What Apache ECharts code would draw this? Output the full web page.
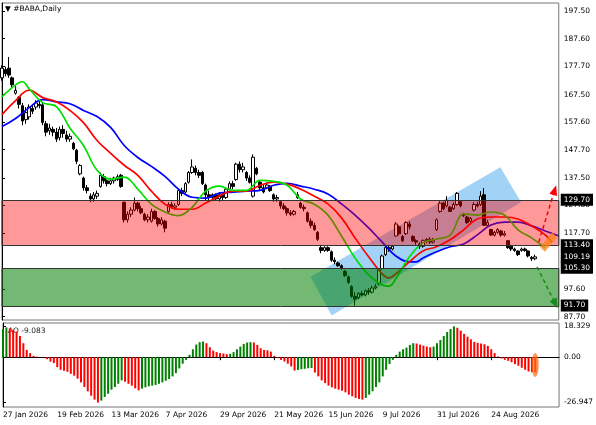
<!DOCTYPE html>
<html>
<head>
<meta charset="utf-8">
<title>#BABA, Daily</title>
<script src="https://cdn.jsdelivr.net/npm/echarts@6/dist/echarts.min.js"></script>
<style>
html, body { margin: 0; padding: 0; background: #fff; }
#chart { width: 596px; height: 425px; }
</style>
</head>
<body>
<div id="chart"></div>
<script>
// bar index of each date label on the bottom axis
const tickIdx = [0, 16, 32, 48, 64, 80, 96, 112, 128, 144]
const tickDates = ['27 Jan 2026', '19 Feb 2026', '13 Mar 2026', '7 Apr 2026', '29 Apr 2026',
  '21 May 2026', '15 Jun 2026', '9 Jul 2026', '31 Jul 2026', '24 Aug 2026']

// daily candles, one value per trading day
const open = [
  173.5, 176.5, 177.0, 173.5, 168.0, 166.5, 163.5, 158.5, 159.5, 162.5,
  163.0, 164.0, 163.8, 157.0, 154.5, 155.0, 154.0, 152.0, 155.0, 153.0,
  151.5, 150.0, 147.5, 139.0, 137.5, 134.0, 131.0, 130.0, 131.0, 134.5,
  138.0, 136.5, 135.5, 136.5, 137.0, 138.5, 128.8, 122.5, 124.5, 126.0,
  128.5, 126.5, 124.5, 122.5, 122.0, 125.5, 123.0, 121.0, 122.0, 125.5,
  128.0, 127.0, 128.0, 133.0, 132.5, 136.0, 139.5, 141.0, 139.5, 139.5,
  135.0, 131.5, 130.5, 131.5, 130.0, 131.5, 130.5, 133.5, 135.5, 137.0,
  142.5, 140.5, 139.5, 137.5, 131.0, 141.0, 136.0, 134.0, 134.0, 134.5,
  131.5, 130.0, 129.0, 127.5, 126.5, 125.0, 124.5, 130.5, 128.5, 127.0,
  125.0, 122.0, 120.5, 118.0, 112.5, 111.5, 112.5, 111.0, 108.0, 107.0,
  106.0, 104.0, 102.0, 98.5, 95.0, 94.5, 96.0, 95.5, 97.0, 96.5,
  98.0, 99.5, 105.0, 110.0, 112.5, 112.0, 116.7, 120.0, 116.5, 117.5,
  121.0, 116.5, 115.0, 113.8, 113.0, 115.0, 115.5, 114.5, 119.0, 125.5,
  128.5, 127.5, 127.0, 126.5, 128.0, 129.0, 124.5, 123.5, 122.0, 126.0,
  128.0, 128.0, 131.5, 120.5, 119.0, 117.0, 118.0, 118.5, 117.0, 115.0,
  113.0, 112.0, 111.3, 111.5, 112.0, 111.3, 109.0, 108.5
]
const close = [
  177.0, 175.0, 174.5, 171.0, 169.0, 164.0, 158.0, 161.0, 163.0, 161.5,
  164.5, 163.5, 157.5, 154.0, 155.5, 154.0, 151.5, 155.0, 153.5, 151.5,
  152.5, 148.0, 143.5, 142.0, 134.0, 133.0, 130.0, 131.5, 132.0, 138.5,
  136.5, 135.5, 136.5, 137.5, 138.0, 134.5, 122.5, 124.5, 126.0, 128.5,
  126.5, 125.0, 122.5, 123.5, 125.5, 123.0, 121.0, 122.5, 119.5, 128.0,
  127.0, 127.5, 133.0, 132.0, 135.5, 139.5, 141.5, 139.5, 138.5, 135.5,
  131.5, 130.5, 131.5, 130.0, 131.5, 130.5, 133.5, 135.5, 134.5, 142.5,
  140.5, 141.5, 137.5, 136.0, 145.0, 139.0, 134.0, 132.5, 135.0, 133.0,
  130.0, 130.5, 127.5, 126.5, 125.0, 124.5, 125.5, 131.5, 127.0, 126.5,
  122.0, 120.5, 119.0, 115.5, 111.5, 112.5, 111.5, 108.0, 107.5, 106.0,
  105.0, 102.5, 100.0, 95.0, 94.0, 96.0, 95.5, 97.0, 96.5, 98.0,
  98.5, 104.5, 109.5, 112.5, 112.0, 113.0, 121.0, 117.5, 115.0, 121.5,
  120.0, 115.0, 114.5, 113.0, 115.0, 115.5, 114.5, 115.0, 122.5, 128.5,
  126.5, 129.5, 125.5, 128.0, 132.0, 127.5, 124.0, 121.5, 123.0, 128.0,
  127.5, 131.0, 120.5, 121.5, 117.0, 118.0, 119.0, 117.0, 117.5, 112.5,
  112.0, 111.5, 110.0, 112.0, 111.5, 109.5, 108.5, 109.19
]
const low = [
  172.5, 174.0, 173.5, 170.0, 167.5, 162.5, 156.5, 157.0, 158.5, 160.5,
  162.0, 162.5, 156.5, 152.5, 153.0, 152.5, 150.5, 151.0, 152.0, 150.5,
  150.5, 147.5, 142.5, 138.5, 133.0, 132.0, 128.8, 129.0, 130.0, 134.0,
  135.5, 134.5, 135.0, 135.5, 136.5, 134.0, 121.5, 121.5, 123.5, 125.5,
  125.5, 124.5, 122.0, 121.5, 121.5, 122.5, 120.0, 120.5, 118.0, 125.0,
  126.5, 126.0, 127.5, 131.0, 132.0, 135.5, 139.0, 138.5, 137.5, 135.0,
  129.5, 129.0, 130.0, 129.5, 129.0, 129.5, 130.0, 133.0, 133.5, 136.5,
  139.5, 139.5, 136.5, 135.5, 130.5, 138.5, 133.0, 132.0, 133.5, 132.5,
  129.0, 129.0, 126.5, 126.0, 124.0, 123.8, 124.0, 130.0, 126.5, 125.5,
  121.5, 119.5, 118.5, 114.9, 110.5, 111.0, 111.0, 107.4, 106.5, 105.6,
  104.5, 102.0, 99.5, 94.5, 91.7, 94.0, 95.0, 95.0, 95.5, 96.0,
  97.5, 99.0, 104.5, 109.5, 111.0, 111.5, 116.5, 117.0, 114.5, 117.0,
  119.0, 114.5, 113.5, 112.0, 112.5, 114.0, 113.8, 114.0, 118.5, 125.0,
  126.0, 127.0, 125.3, 126.0, 127.5, 127.0, 123.5, 121.0, 121.5, 125.5,
  127.0, 127.5, 120.3, 120.0, 116.7, 116.5, 117.5, 116.4, 116.5, 112.1,
  111.3, 111.0, 109.5, 111.0, 111.0, 109.0, 107.7, 108.0
]
const high = [
  178.0, 177.5, 181.0, 174.0, 170.5, 167.0, 164.5, 163.0, 164.0, 164.0,
  165.5, 165.5, 164.5, 158.0, 157.0, 156.0, 155.5, 156.0, 156.5, 154.5,
  153.5, 150.5, 148.0, 142.5, 138.0, 135.0, 132.0, 132.5, 133.0, 139.5,
  139.0, 137.0, 137.5, 138.0, 138.8, 139.0, 129.0, 125.5, 127.0, 130.5,
  129.0, 127.5, 125.0, 124.5, 126.5, 126.0, 123.5, 123.5, 122.5, 128.8,
  129.0, 128.5, 133.5, 134.0, 136.0, 140.0, 144.2, 142.0, 140.5, 140.0,
  135.5, 133.0, 132.0, 132.0, 132.5, 132.5, 134.0, 136.3, 136.5, 143.0,
  143.5, 143.0, 140.0, 138.5, 146.0, 141.5, 136.5, 135.0, 136.0, 135.0,
  132.0, 131.5, 129.5, 128.5, 127.0, 126.0, 126.0, 132.5, 129.0, 128.0,
  125.5, 123.0, 121.5, 118.5, 113.5, 113.0, 113.0, 111.5, 109.0, 107.5,
  106.5, 104.5, 102.5, 99.0, 96.5, 96.5, 97.0, 97.5, 98.0, 98.8,
  99.5, 105.0, 110.0, 113.0, 113.5, 113.5, 121.7, 120.5, 117.0, 122.0,
  122.0, 117.0, 115.5, 114.5, 115.5, 116.0, 116.3, 116.0, 123.0, 129.2,
  129.0, 131.0, 127.5, 128.8, 132.5, 129.2, 125.0, 124.0, 123.5, 128.8,
  129.0, 132.8, 133.9, 122.5, 119.3, 118.5, 119.5, 118.9, 118.5, 115.0,
  113.5, 112.5, 111.5, 112.5, 112.5, 111.5, 109.5, 110.0
]

// alligator lines, [bar index, price], drawn shifted forward like the original
const lips = [
  [0, 166.7], [4, 171.0], [6, 172.1], [8, 169.6], [12, 164.6], [16, 163.2], [20, 155.5],
  [24, 149.2], [28, 140.3], [32, 137.1], [36, 137.8], [40, 133.5], [44, 128.1], [48, 125.3],
  [52, 124.0], [56, 127.0], [60, 132.8], [64, 134.6], [68, 133.1], [72, 133.1], [76, 136.7],
  [80, 136.3], [84, 134.9], [88, 129.9], [92, 128.1], [96, 124.2], [100, 116.7], [104, 108.8],
  [108, 102.7], [112, 99.1], [114, 98.7], [116, 101.3], [120, 109.2], [124, 114.2], [128, 115.6],
  [132, 117.0], [136, 124.6], [140, 124.2], [144, 125.3], [148, 124.2], [152, 118.9],
  [156, 116.0], [160, 112.4]
]
const teeth = [
  [0, 160.3], [4, 165.3], [8, 169.1], [12, 166.4], [16, 164.9], [20, 161.8], [24, 157.4],
  [28, 151.0], [32, 146.4], [36, 142.1], [40, 138.5], [44, 132.8], [48, 128.1], [52, 126.3],
  [56, 126.3], [60, 128.5], [64, 131.0], [68, 132.8], [72, 132.8], [76, 134.9], [80, 136.0],
  [84, 135.3], [88, 133.5], [92, 131.0], [96, 128.2], [100, 123.2], [104, 116.0], [108, 109.2],
  [112, 103.1], [114, 101.6], [116, 103.1], [120, 107.4], [124, 111.3], [128, 112.8],
  [132, 115.3], [136, 118.9], [140, 122.8], [144, 123.5], [148, 123.5], [152, 122.8],
  [156, 120.3], [160, 117.1], [162, 114.5]
]
const jaw = [
  [0, 156.0], [4, 158.9], [8, 162.8], [12, 165.7], [16, 164.9], [20, 164.2], [24, 161.8],
  [28, 159.6], [32, 155.7], [36, 149.2], [40, 144.9], [44, 141.7], [48, 138.1], [52, 133.5],
  [56, 130.6], [60, 130.3], [64, 132.1], [68, 132.4], [72, 132.8], [76, 133.1], [80, 134.9],
  [84, 135.6], [88, 134.6], [92, 133.5], [96, 131.8], [100, 128.2], [104, 124.2], [108, 119.6],
  [112, 114.5], [116, 109.5], [120, 107.4], [122, 107.4], [124, 108.8], [128, 111.0],
  [132, 112.8], [136, 113.8], [140, 117.1], [144, 120.6], [148, 121.7], [152, 121.7],
  [156, 120.3], [160, 118.5], [164, 116.7]
]

// awesome oscillator, one value per bar
const ao = [
  16.7, 17.7, 17.1, 16.2, 15.2, 12.6, 8.3, 4.3, 2.4, 0.8,
  0.3, 0.1, -0.2, -1.2, -2.6, -3.5, -5.9, -7.5, -8.1, -8.7,
  -9.9, -11.0, -12.8, -15.0, -17.7, -20.3, -22.9, -25.2, -26.947, -25.8,
  -23.6, -21.7, -19.3, -17.7, -15.8, -13.8, -14.6, -15.8, -16.9, -18.5,
  -19.7, -18.7, -17.9, -17.3, -16.9, -16.5, -15.8, -15.0, -14.0, -13.0,
  -11.4, -9.5, -6.7, -3.9, -1.6, 1.4, 4.7, 7.5, 8.9, 9.3,
  8.3, 5.9, 3.9, 3.0, 2.4, 2.2, 1.8, 2.0, 3.0, 4.7,
  6.3, 7.9, 8.7, 8.9, 8.7, 7.3, 5.3, 4.3, 4.1, 3.3,
  0.8, -0.6, -1.6, -2.6, -3.9, -5.5, -7.9, -7.6, -7.2, -6.9,
  -6.6, -6.4, -9.1, -11.4, -13.8, -15.4, -16.9, -17.9, -18.7, -19.3,
  -19.9, -20.9, -22.3, -23.2, -24.2, -24.8, -25.2, -24.2, -22.3, -20.3,
  -17.7, -15.0, -11.4, -7.5, -4.1, -1.6, 1.4, 3.3, 4.7, 5.7,
  7.3, 8.3, 8.1, 7.5, 6.9, 6.3, 5.9, 6.3, 8.3, 10.2,
  12.6, 15.0, 16.7, 18.329, 17.5, 15.8, 13.8, 12.2, 10.6, 9.1,
  8.5, 8.1, 7.7, 6.7, 4.7, 2.4, 0.4, -0.8, -1.6, -2.2,
  -3.0, -4.1, -5.1, -6.3, -7.5, -8.5, -8.9, -9.083
]

// drawn objects
const resistZone = [129.7, 113.4]
const supportZone = [105.3, 91.7]
const channel = [[90.9, 102.0], [146.8, 141.35], [152.9, 128.8], [97.1, 88.1]]
const pivotBox = [[158.4, 112.8], [162.2, 118.1], [163.4, 116.0], [159.9, 111.0]]
const upArrow = [[158.1, 114.5], [162.8, 133.2]]
const downArrow = [[157.6, 105.6], [163.0, 92.3]]
const aoMark = [[155.9, 2.5], [158.0, -11.7]]

// axis labels
const priceTicks = [87.7, 97.6, 117.7, 127.8, 137.5, 147.7, 157.6, 167.5, 177.7, 187.6, 197.5]
const levelTicks = [129.7, 113.4, 109.19, 105.3, 91.7]
const aoTicks = [-26.947, 0, 18.329]

const fontFamily = 'DejaVu Sans'
const labelFont = {fontFamily, fontSize: 7.5, color: '#000'}

const candleData = open.map((o, i) => [i, o, close[i], low[i], high[i]])
const aoData = ao.map((v, i) => ({
  value: [i, v],
  itemStyle: {color: i > 0 && v < ao[i - 1] ? '#ff0000' : '#008000'}
}))

function polygonItem(points, fill) {
  return (params, api) => ({
    type: 'polygon',
    shape: {points: points.map(p => api.coord(p))},
    style: {fill}
  })
}

const chart = echarts.init(document.getElementById('chart'))

chart.setOption({
  animation: false,
  backgroundColor: '#fff',
  title: [
    {
      text: '▼ #BABA,Daily',
      left: 5, top: 5, padding: 0,
      textStyle: {...labelFont, fontWeight: 'normal'}
    },
    {
      text: 'AO ' + ao[ao.length - 1],
      left: 8, top: 327, padding: 0, z: 0,
      textStyle: {...labelFont, fontWeight: 'normal', color: '#222'}
    }
  ],
  grid: [
    {left: 2, right: 35, top: 3, height: 317, show: true, borderColor: '#777', borderWidth: 1},
    {left: 2, right: 35, top: 323, height: 84, show: true, borderColor: '#777', borderWidth: 1}
  ],
  xAxis: [
    {type: 'value', gridIndex: 0, min: 0, max: 164, show: false},
    {
      type: 'value', gridIndex: 1, min: 0, max: 164,
      splitLine: {show: false},
      axisLine: {lineStyle: {color: '#000'}},
      axisTick: {customValues: tickIdx, length: 3, lineStyle: {color: '#000'}},
      axisLabel: {
        customValues: tickIdx,
        formatter: v => tickDates[tickIdx.indexOf(v)],
        align: 'left', margin: 4, ...labelFont
      }
    }
  ],
  yAxis: [
    {
      type: 'value', gridIndex: 0, position: 'right', min: 86.5, max: 200.4,
      splitLine: {show: false},
      axisLine: {show: true, lineStyle: {color: '#000'}},
      axisTick: {show: true, customValues: priceTicks, length: 3, lineStyle: {color: '#000'}},
      axisLabel: {customValues: priceTicks, formatter: v => v.toFixed(2), margin: 5, ...labelFont}
    },
    {
      type: 'value', gridIndex: 0, position: 'right', min: 86.5, max: 200.4,
      splitLine: {show: false}, axisLine: {show: false}, axisTick: {show: false},
      axisLabel: {
        customValues: levelTicks, formatter: v => v.toFixed(2), margin: 2,
        backgroundColor: '#000', padding: [2, 3], ...labelFont, color: '#fff'
      }
    },
    {
      type: 'value', gridIndex: 1, position: 'right', min: -29.6, max: 20.3,
      splitLine: {show: false},
      axisLine: {show: true, lineStyle: {color: '#000'}},
      axisTick: {show: true, customValues: aoTicks, length: 3, lineStyle: {color: '#000'}},
      axisLabel: {
        customValues: aoTicks,
        formatter: v => v === 0 ? '0.00' : String(v),
        margin: 5, ...labelFont
      }
    }
  ],
  series: [
    {
      name: 'channel', type: 'custom', xAxisIndex: 0, yAxisIndex: 0, z: 1, silent: true,
      data: [[0, 0]],
      renderItem: polygonItem(channel, 'rgba(100,180,240,0.6)')
    },
    {
      name: 'BABA', type: 'candlestick', xAxisIndex: 0, yAxisIndex: 0, z: 2,
      data: candleData,
      encode: {x: 0, y: [1, 2, 3, 4]},
      barWidth: 3,
      itemStyle: {color: '#fff', color0: '#000', borderColor: '#000', borderColor0: '#000', borderWidth: 1}
    },
    {
      name: 'Jaw', type: 'line', xAxisIndex: 0, yAxisIndex: 0, z: 3,
      data: jaw, showSymbol: false, smooth: 0.4,
      lineStyle: {color: '#0000ff', width: 1.7}
    },
    {
      name: 'Teeth', type: 'line', xAxisIndex: 0, yAxisIndex: 0, z: 3,
      data: teeth, showSymbol: false, smooth: 0.4,
      lineStyle: {color: '#ff0000', width: 1.7}
    },
    {
      name: 'Lips', type: 'line', xAxisIndex: 0, yAxisIndex: 0, z: 3,
      data: lips, showSymbol: false, smooth: 0.4,
      lineStyle: {color: '#00e000', width: 1.7}
    },
    {
      name: 'zones', type: 'custom', xAxisIndex: 0, yAxisIndex: 0, z: 4, silent: true,
      data: [resistZone, supportZone],
      renderItem(params, api) {
        const cs = params.coordSys
        const top = Math.round(api.coord([0, api.value(0)])[1]) + 0.5
        const bottom = Math.round(api.coord([0, api.value(1)])[1]) + 0.5
        const fill = params.dataIndex === 0 ? 'rgba(255,0,0,0.4)' : 'rgba(0,128,0,0.55)'
        return {
          type: 'rect',
          shape: {x: cs.x, y: top, width: cs.width, height: bottom - top},
          style: {fill, stroke: '#333', lineWidth: 1}
        }
      }
    },
    {
      name: 'pivot', type: 'custom', xAxisIndex: 0, yAxisIndex: 0, z: 4, silent: true,
      data: [[0, 0]],
      renderItem: polygonItem(pivotBox, 'rgba(255,130,20,0.75)')
    },
    {
      name: 'arrows', type: 'line', xAxisIndex: 0, yAxisIndex: 0, data: [],
      markLine: {
        silent: true, z: 5,
        symbol: ['none', 'triangle'], symbolSize: [8, 10],
        label: {show: false},
        data: [
          [{coord: upArrow[0], lineStyle: {color: '#ff0000', type: [4, 3], width: 1.5}},
            {coord: upArrow[1]}],
          [{coord: downArrow[0], lineStyle: {color: '#1a8a1a', type: [4, 3], width: 1.5}},
            {coord: downArrow[1]}]
        ]
      }
    },
    {
      name: 'AO', type: 'bar', xAxisIndex: 1, yAxisIndex: 2, z: 2,
      data: aoData, barWidth: 2
    },
    {
      name: 'aoMark', type: 'custom', xAxisIndex: 1, yAxisIndex: 2, z: 3, silent: true,
      data: [[0, 0]],
      renderItem(params, api) {
        const a = api.coord(aoMark[0])
        const b = api.coord(aoMark[1])
        return {
          type: 'ellipse',
          shape: {cx: (a[0] + b[0]) / 2, cy: (a[1] + b[1]) / 2, rx: Math.abs(b[0] - a[0]) / 2, ry: Math.abs(b[1] - a[1]) / 2},
          style: {fill: 'rgba(255,110,20,0.7)'}
        }
      }
    }
  ]
})
</script>
</body>
</html>
